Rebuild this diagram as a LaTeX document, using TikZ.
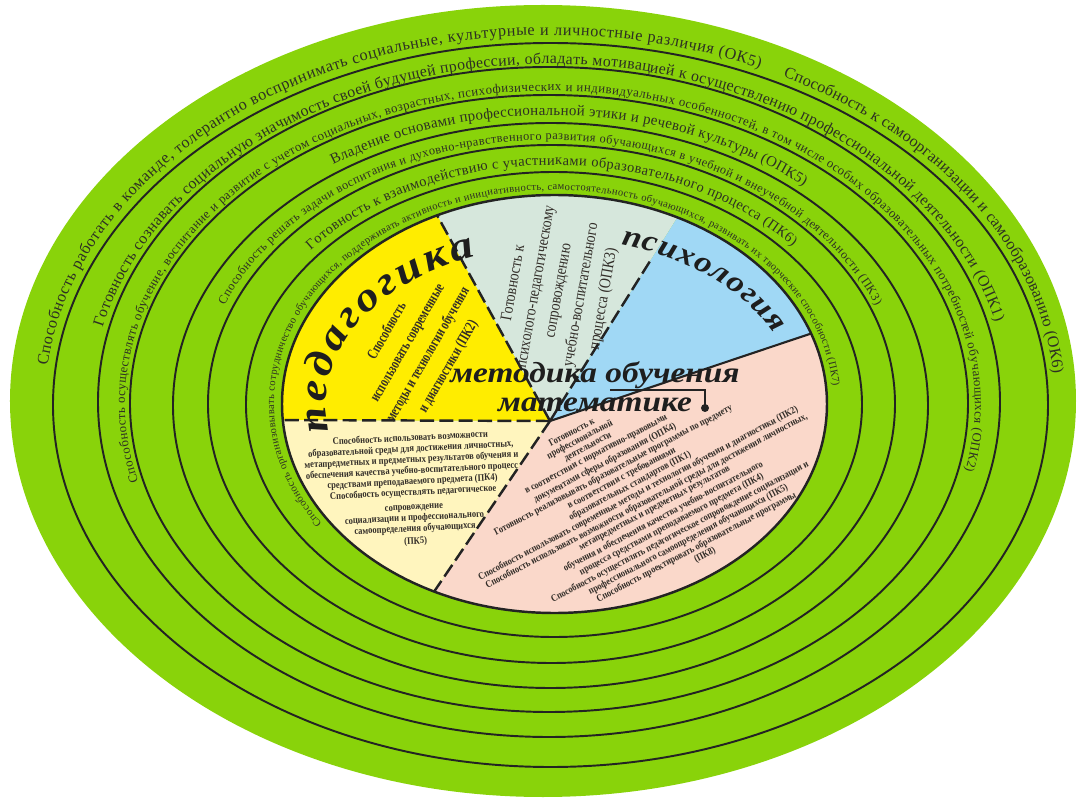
\documentclass[tikz,border=0pt]{standalone}
\usepackage{fontspec}
\setmainfont{Liberation Serif}
\newfontfamily\narrowserif[FakeStretch=0.85]{Liberation Serif}
\newfontfamily\condserif[FakeStretch=0.72]{Liberation Serif}
\newfontfamily\titlefont[FakeStretch=1.15]{Liberation Serif}
\usepackage{tikz}
\usetikzlibrary{decorations.text, calc}
\definecolor{ringGreen}{RGB}{137, 211, 10}
\definecolor{lineColor}{RGB}{35, 35, 35}
\definecolor{pedYellow}{RGB}{255, 237, 0}
\definecolor{supportGreen}{RGB}{214, 231, 220}
\definecolor{psyBlue}{RGB}{160, 216, 245}
\definecolor{methodPink}{RGB}{250, 216, 202}
\definecolor{paleYellow}{RGB}{255, 245, 190}
\definecolor{ringText}{RGB}{45, 48, 35}
\definecolor{boxText}{RGB}{50, 45, 40}
\definecolor{titleText}{RGB}{30, 30, 30}
\tikzset{
    ring_line/.style={
        draw=lineColor,
        line width=1.1pt
    },
    pie_rim/.style={
        draw=lineColor,
        line width=1.4pt
    },
    sector_dash/.style={
        draw=lineColor,
        line width=1.4pt,
        dash pattern=on 8pt off 3pt
    },
    sector_solid/.style={
        draw=lineColor,
        line width=1.2pt
    },
    bracket_line/.style={
        draw=lineColor,
        line width=1.1pt
    },
    title_text/.style={
        font=\titlefont\bfseries\itshape\fontsize{16.5}{16.5}\selectfont,
        text=titleText,
        inner sep=0pt
    },
    ped_text/.style={
        font=\condserif\bfseries\fontsize{8.6}{13.4}\selectfont,
        text=boxText,
        align=center,
        inner sep=0pt
    },
    support_text/.style={
        font=\narrowserif\fontsize{9.3}{13}\selectfont,
        text=boxText,
        align=center,
        inner sep=0pt
    },
    pale_text/.style={
        font=\narrowserif\bfseries\fontsize{5.7}{6.2}\selectfont,
        text=boxText,
        align=center,
        inner sep=0pt
    },
    method_line/.style={
        font=\narrowserif\bfseries\fontsize{5.7}{6.2}\selectfont,
        text=boxText,
        inner sep=0pt,
        rotate=28
    }
}
\newcommand{\bandlabel}[7]{%
    \path[decorate, decoration={text along path, text align=fit to path,
        text color=ringText, text={|\fontsize{#6}{#6}\selectfont|#7}}]
        (#1) ++(#4:#2 and #3) arc[start angle=#4, end angle=#5, x radius=#2, y radius=#3];%
}
\begin{document}
\begin{tikzpicture}[x=0.02cm, y=0.02cm]
    \path[fill=white, use as bounding box] (-550,-397) rectangle (529,404);

    \fill[ringGreen] (-7,3) ellipse [x radius=533, y radius=396];
    \draw[ring_line] (0.5,-1) ellipse [x radius=497.5, y radius=362];
    \draw[ring_line] (-1,2) ellipse [x radius=451, y radius=335];
    \draw[ring_line] (-1,0.5) ellipse [x radius=419, y radius=308.5];
    \draw[ring_line] (0.5,-1.5) ellipse [x radius=377.5, y radius=282.5];
    \draw[ring_line] (1.5,0) ellipse [x radius=343.5, y radius=259];
    \draw[ring_line] (4,-0.5) ellipse [x radius=308, y radius=232.5];

    \coordinate (hub) at (0,-17);
    \path (4.5,0) ++(184.4:272.5 and 209) coordinate (rimW)
          (4.5,0) ++(115.5:272.5 and 209) coordinate (rimNW)
          (4.5,0) ++(63.2:272.5 and 209) coordinate (rimNE)
          (4.5,0) ++(19.7:272.5 and 209) coordinate (rimE)
          (4.5,0) ++(243.8:272.5 and 209) coordinate (rimSW);

    \fill[pedYellow] (hub) -- (rimNW) arc[start angle=115.5, end angle=184.4, x radius=272.5, y radius=209] -- cycle;
    \fill[supportGreen] (hub) -- (rimNE) arc[start angle=63.2, end angle=115.5, x radius=272.5, y radius=209] -- cycle;
    \fill[psyBlue] (hub) -- (rimE) arc[start angle=19.7, end angle=63.2, x radius=272.5, y radius=209] -- cycle;
    \fill[methodPink] (hub) -- (rimSW) arc[start angle=-116.2, end angle=19.7, x radius=272.5, y radius=209] -- cycle;
    \fill[paleYellow] (hub) -- (rimW) arc[start angle=184.4, end angle=243.8, x radius=272.5, y radius=209] -- cycle;
    \draw[pie_rim] (4.5,0) ellipse [x radius=272.5, y radius=209];

    \draw[sector_dash] (hub) -- (rimW);
    \draw[sector_dash] (hub) -- (rimNW);
    \draw[sector_dash] (hub) -- ($(hub)!0.8!(rimNE)$);
    \draw[sector_solid] (hub) -- (rimE);
    \draw[sector_dash] (hub) -- (rimSW);

    \bandlabel{0,0}{505}{369}{174}{65.5}{9.2}{Способность работать в команде,  толерантно воспринимать социальные, культурные и личностные различия (ОК5)}
    \bandlabel{0,0}{505}{369}{62.5}{4.8}{9.2}{Способность к самоорганизации и самообразованию (ОК6)}
    \bandlabel{0,0}{459}{340}{167}{14}{9}{Готовность сознавать социальную значимость своей будущей профессии, обладать мотивацией к осуществлению профессиональной деятельности (ОПК1)}
    \bandlabel{0,0}{425}{313}{194.4}{-12.2}{7.3}{Способность осуществлять обучение, воспитание и развитие с учетом социальных, возрастных, психофизических и индивидуальных особенностей, в том числе особых образовательных потребностей обучающихся (ОПК2)}
    \bandlabel{0,0}{386}{289}{124.2}{49}{8.5}{Владение основами профессиональной этики и речевой культуры (ОПК5)}
    \bandlabel{0,0}{351}{264}{158}{22.1}{7}{Способность решать задачи воспитания и духовно-нравственного развития обучающихся в учебной и внеучебной деятельности (ПК3)}
    \bandlabel{4,0}{318}{239}{139.9}{41.4}{8.2}{Готовность к взаимодействию с участниками образовательного процесса (ПК6)}
    \bandlabel{4,0}{280}{214}{214}{4.8}{6}{Способность организовывать сотрудничество обучающихся, поддерживать активность и  инициативность, самостоятельность обучающихся, развивать их творческие способности (ПК7)}

    \path[decorate, decoration={text along path, text align=fit to path, text color=titleText,
        text={|\titlefont\bfseries\itshape\fontsize{23}{23}\selectfont|педагогика}}]
        (4,0) ++(190:228 and 157) arc[start angle=190, end angle=110, x radius=228, y radius=157];
    \path[decorate, decoration={text along path, text align=fit to path, text color=titleText,
        text={|\titlefont\bfseries\itshape\fontsize{17}{17}\selectfont|психология}}]
        (4,0) ++(74:243 and 166) arc[start angle=74, end angle=25, x radius=243, y radius=166];

    \node[ped_text, rotate=60] (pedSkill) at (-132,55) {Способность\\использовать современные\\методы и технологии обучения\\и диагностики (ПК2)};
    \node[support_text, rotate=80] (supportSkill) at (9,113) {Готовность к\\психолого-педагогическому\\сопровождению\\учебно-воспитательного\\процесса (ОПК3)};
    \node[pale_text, rotate=3] (paleSkills) at (-137,-86) {Способность использовать возможности\\образовательной среды для достижения личностных,\\метапредметных и предметных результатов обучения и\\обеспечения качества учебно-воспитательного процесс\\средствами преподаваемого предмета (ПК4)\\Способность осуществлять педагогическое\\[2pt]сопровождение\\социализации и профессионального\\самоопределения обучающихся\\[1pt](ПК5)};

    \node[method_line] (m1) at (21.6,-28.2) {Готовность к};
    \node[method_line] (m2) at (30.0,-35.9) {профессиональной};
    \node[method_line] (m3) at (38.3,-43.6) {деятельности};
    \node[method_line] (m4) at (46.6,-51.3) {в соответствии с нормативно-правовыми};
    \node[method_line] (m5) at (55.0,-59.0) {документами сферы образования (ОПК4)};
    \node[method_line] (m6) at (63.3,-66.6) {Готовность реализовывать образовательные программы по предмету};
    \node[method_line] (m7) at (71.6,-74.3) {в соответствии с требованиями};
    \node[method_line] (m8) at (80.0,-82.0) {образовательных стандартов (ПК1)};
    \node[method_line] (m9) at (88.3,-89.7) {Способность использовать современные методы и технологии обучения и диагностики (ПК2)};
    \node[method_line] (m10) at (96.6,-97.4) {Способность использовать возможности образовательной среды для достижения личностных,};
    \node[method_line] (m11) at (105.0,-105.1) {метапредметных и предметных результатов};
    \node[method_line] (m12) at (113.3,-112.8) {обучения и обеспечения качества учебно-воспитательного};
    \node[method_line] (m13) at (121.6,-120.4) {процесса средствами преподаваемого предмета (ПК4)};
    \node[method_line] (m14) at (130.0,-128.1) {Способность осуществлять педагогическое сопровождение социализации и};
    \node[method_line] (m15) at (138.3,-135.8) {профессионального самоопределения обучающихся (ПК5)};
    \node[method_line] (m16) at (146.6,-143.5) {Способность проектировать образовательные программы};
    \node[method_line] (m17) at (155.0,-151.2) {(ПК8)};

    \node[title_text, anchor=base] (methodTop) at (45,21) {методика обучения};
    \node[title_text, anchor=base] (methodBottom) at (45,-8) {математике};
    \coordinate (braceA) at (60,14);
    \coordinate (braceB) at (155,14);
    \coordinate (braceC) at (155,-4);
    \draw[bracket_line] (braceA) -- (braceB) -- (braceC);
    \fill[lineColor] (braceC) circle[radius=4];
\end{tikzpicture}
\end{document}
